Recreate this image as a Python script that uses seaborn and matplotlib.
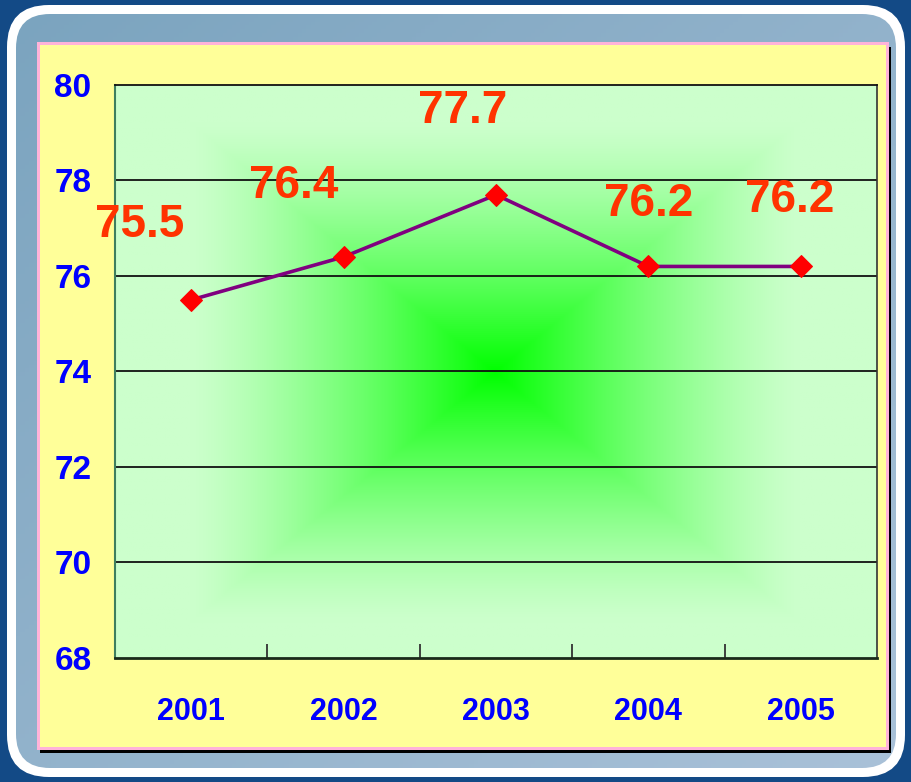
import numpy as np
import matplotlib
matplotlib.use("Agg")
import matplotlib.pyplot as plt
import seaborn as sns
from matplotlib.patches import FancyBboxPatch, Rectangle

# data
years = [2001, 2002, 2003, 2004, 2005]
values = [75.5, 76.4, 77.7, 76.2, 76.2]
value_labels = ["75.5", "76.4", "77.7", "76.2", "76.2"]
y_ticks = [68, 70, 72, 74, 76, 78, 80]
# label offsets from the points (points)
label_offsets = [(-37, 54), (-36, 51), (-24, 60), (0, 45), (-8, 48)]

sns.set_style("white")
plt.rcParams['font.family'] = ['Liberation Sans', 'DejaVu Sans']

W, H = 911, 782
fig = plt.figure(figsize=(W / 100, H / 100), dpi=100)
fig.patch.set_facecolor("#134a86")

# background decoration in pixel coordinates
bg = fig.add_axes([0, 0, 1, 1], zorder=-10)
bg.set_xlim(0, W)
bg.set_ylim(H, 0)
bg.axis("off")

white = FancyBboxPatch((7 + 42, 5 + 42), 898 - 84, 772 - 84,
                       boxstyle="round,pad=42", fc="white", ec="none")
bg.add_patch(white)

panel = FancyBboxPatch((16 + 34, 14 + 34), 880 - 68, 754 - 68,
                       boxstyle="round,pad=34", fc="none", ec="none")
bg.add_patch(panel)
gx, gy = np.meshgrid(np.linspace(0, 1, 200), np.linspace(0, 1, 200))
tt = (gx + gy) / 2
c0 = np.array([0x7b, 0xa4, 0xbf]) / 255
c1 = np.array([0xa9, 0xc1, 0xd8]) / 255
grad = c0 + (c1 - c0) * tt[..., None]
im = bg.imshow(grad, extent=(16, 896, 768, 14), aspect="auto", zorder=1)
im.set_clip_path(panel)

bg.add_patch(Rectangle((40, 47), 851, 706, fc="black", ec="none", zorder=2))
bg.add_patch(Rectangle((37, 42), 852, 708, fc="#ffb3d9", ec="none", zorder=3))
bg.add_patch(Rectangle((40, 45), 846, 702, fc="#ffff99", ec="none", zorder=4))

# plot area
ax = fig.add_axes([115 / W, 1 - 658 / H, (877 - 115) / W, (658 - 85) / H])
ax.set_xlim(2000.5, 2005.5)
ax.set_ylim(68, 80)

# rectangular green gradient background
px, py = np.meshgrid(np.linspace(0, 762, 400), np.linspace(0, 573, 300))
t = np.maximum(np.abs(px - 380) / 305, np.abs(py - 287) / 250)
t = np.clip(t, 0, 1)
w = (1 - t) ** 1.3
cc = np.array([0.0, 1.0, 0.0])
ce = np.array([0xcc, 0xff, 0xcc]) / 255
green = ce + (cc - ce) * w[..., None]
ax.imshow(green, extent=(2000.5, 2005.5, 68, 80), aspect="auto",
          origin="upper", zorder=0)

for yv in y_ticks[1:-1]:
    ax.axhline(yv, color="#111111", lw=1.3, zorder=1)

sns.lineplot(x=years, y=values, ax=ax, color="#800080", lw=2.6,
             marker="D", markersize=11, markerfacecolor="red",
             markeredgecolor="red", zorder=3)

for x, y, lab, off in zip(years, values, value_labels, label_offsets):
    ax.annotate(lab, (x, y), xytext=off, textcoords="offset points",
                ha="center", va="center", fontsize=33, fontweight="bold",
                color="#ff3300", zorder=4)

ax.set_xticks(years)
ax.set_xticklabels([str(y) for y in years])
ax.set_xticks([2001.5, 2002.5, 2003.5, 2004.5], minor=True)
ax.tick_params(axis="x", which="major", length=0, pad=28, labelsize=22,
               labelcolor="#0000ff")
ax.tick_params(axis="x", which="minor", direction="in", length=10,
               width=1.3, color="#333333", bottom=True)
ax.set_yticks(y_ticks)
ax.tick_params(axis="y", direction="in", length=8, width=1.3,
               color="#3f7f5f", pad=17, labelsize=24, labelcolor="#0000ff")
for lab in ax.get_xticklabels() + ax.get_yticklabels():
    lab.set_fontweight("bold")

ax.spines["left"].set_color("#3f7f5f")
ax.spines["left"].set_linewidth(1.5)
ax.spines["bottom"].set_color("#1a2a1a")
ax.spines["bottom"].set_linewidth(2)
ax.spines["top"].set_color("#111111")
ax.spines["top"].set_linewidth(1.3)
ax.spines["right"].set_color("#333333")
ax.spines["right"].set_linewidth(1.2)
ax.set_xlabel("")
ax.set_ylabel("")

fig.savefig("out.png", dpi=100)
